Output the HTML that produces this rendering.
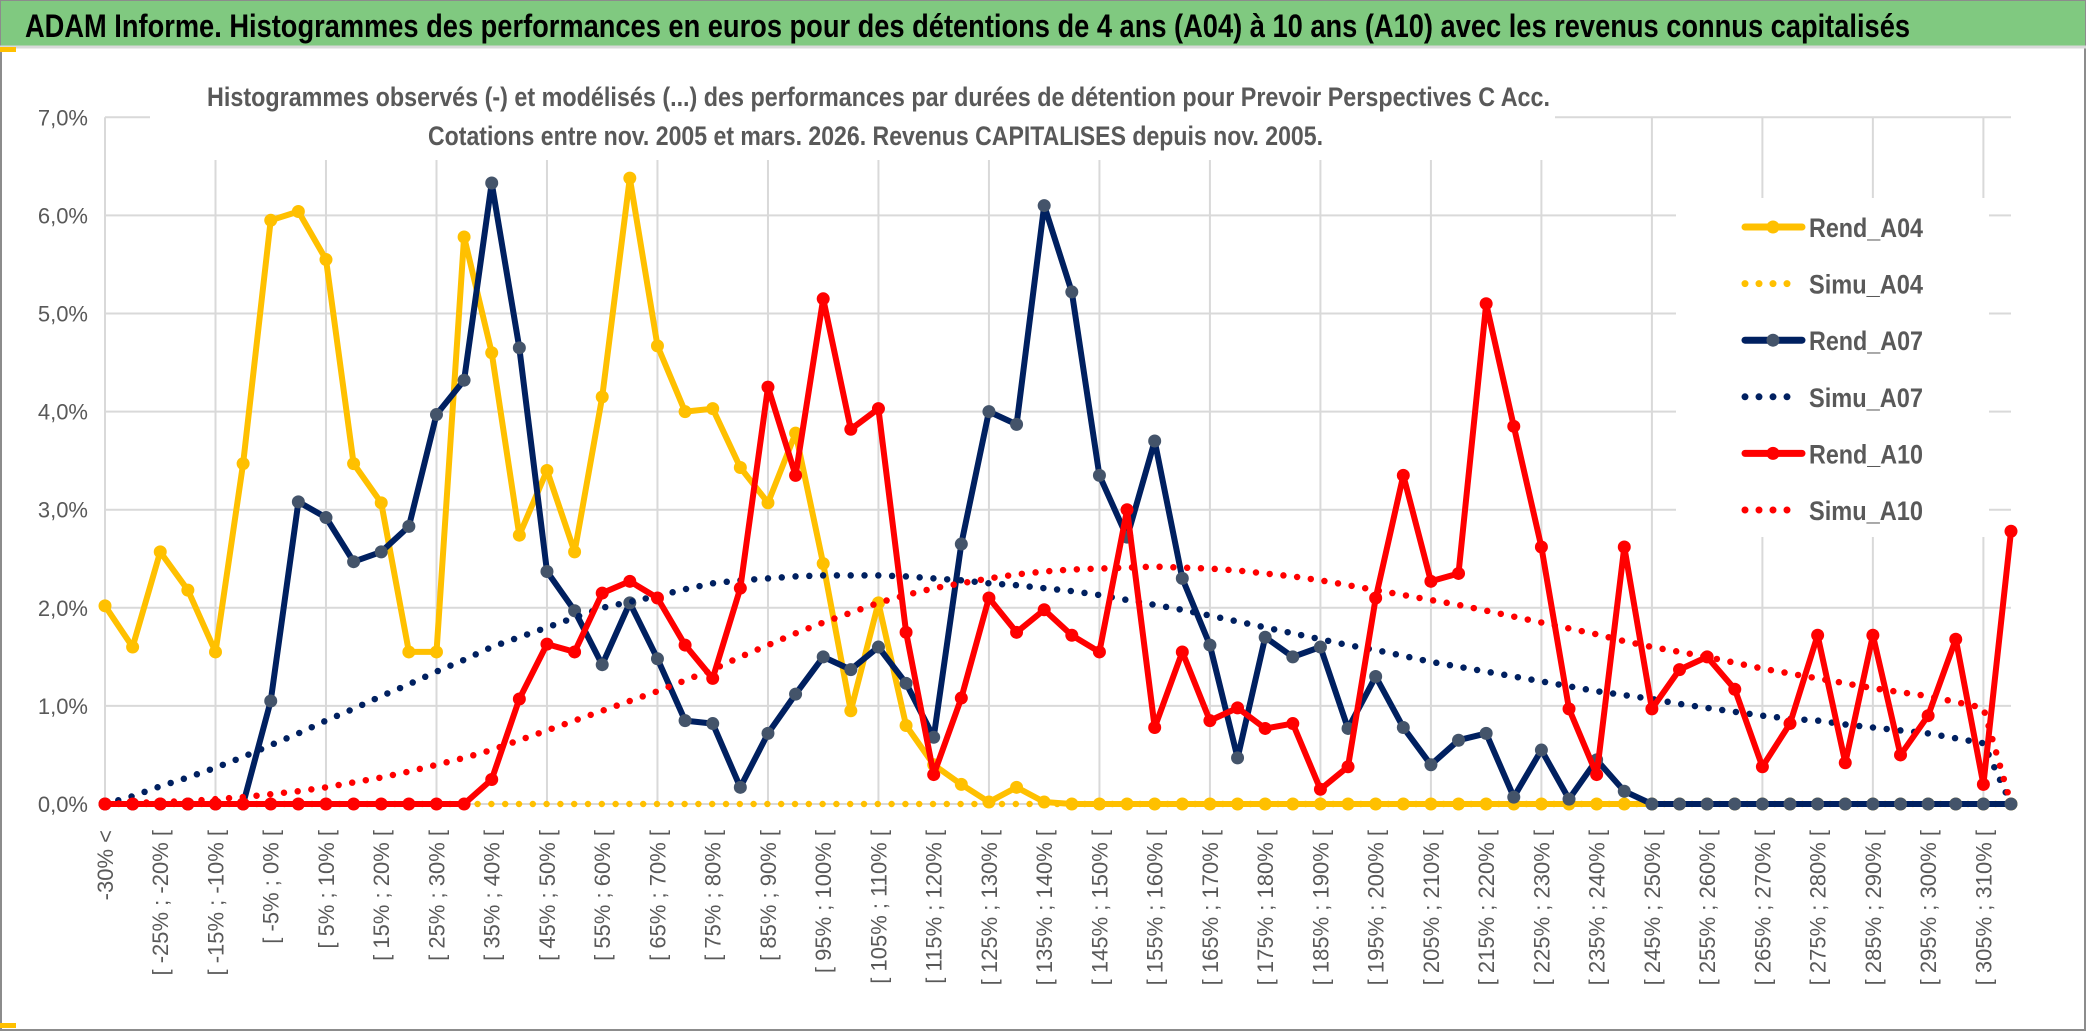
<!DOCTYPE html>
<html><head><meta charset="utf-8"><style>
html,body{margin:0;padding:0;background:#fff;}
svg{display:block;}
text{font-family:"Liberation Sans",sans-serif;}
</style></head><body>
<svg id="chart" width="2086" height="1031" viewBox="0 0 2086 1031" xmlns="http://www.w3.org/2000/svg">
<rect x="1" y="1" width="2084" height="1029" fill="#fff" stroke="#8c8c8c" stroke-width="2"/>
<rect x="1" y="1" width="2084" height="45" fill="#80c980"/>
<line x1="0" y1="47" x2="2086" y2="47" stroke="#d9d9d9" stroke-width="3"/>
<rect x="0" y="47" width="16" height="5" fill="#ffc000"/>
<rect x="0" y="1023" width="16" height="5" fill="#ffc000"/>
<text x="25" y="37" font-size="32" font-weight="bold" fill="#000" textLength="1885" lengthAdjust="spacingAndGlyphs">ADAM Informe. Histogrammes des performances en euros pour des détentions de 4 ans (A04) à 10 ans (A10) avec les revenus connus capitalisés</text>
<g id="grid"></g>
<rect x="150" y="68" width="1405" height="92" fill="#fff"/>
<text x="207" y="106" font-size="27" font-weight="bold" fill="#595959" textLength="1343" lengthAdjust="spacingAndGlyphs">Histogrammes observés (-) et modélisés (...) des performances par durées de détention pour Prevoir Perspectives C Acc.</text>
<text x="428" y="145" font-size="27" font-weight="bold" fill="#595959" textLength="895" lengthAdjust="spacingAndGlyphs">Cotations entre nov. 2005 et mars. 2026. Revenus CAPITALISES depuis nov. 2005.</text>
<rect x="1676" y="198" width="313" height="339" fill="#fff"/>
<g id="yaxis"></g>
<g id="xaxis"></g>
<g id="series"></g>
<g id="legend"></g>
</svg>
<script>
const yTicks = [0,1,2,3,4,5,6,7];
const rendA04 = [2.02,1.6,2.57,2.18,1.55,3.47,5.95,6.04,5.55,3.47,3.07,1.55,1.55,5.78,4.6,2.74,3.4,2.57,4.15,6.38,4.67,4.0,4.03,3.43,3.07,3.78,2.45,0.95,2.05,0.8,0.4,0.2,0.02,0.17,0.02,0,0,0,0,0,0,0,0,0,0,0,0,0,0,0,0,0,0,0,0,0,0,0,0,0,0,0,0,0,0,0,0,0,0,0];
const simuA04 = [0,0,0,0,0,0,0,0,0,0,0,0,0,0,0,0,0,0,0,0,0,0,0,0,0,0,0,0,0,0,0,0,0,0,0,0,0,0,0,0,0,0,0,0,0,0,0,0,0,0,0,0,0,0,0,0,0,0,0,0,0,0,0,0,0,0,0,0,0,0];
const rendA07 = [0,0,0,0,0,0,1.05,3.08,2.92,2.47,2.57,2.83,3.97,4.32,6.33,4.65,2.37,1.97,1.42,2.05,1.48,0.85,0.82,0.17,0.72,1.12,1.5,1.37,1.6,1.23,0.68,2.65,4.0,3.87,6.1,5.22,3.35,2.72,3.7,2.3,1.62,0.47,1.7,1.5,1.6,0.77,1.3,0.78,0.4,0.65,0.72,0.07,0.55,0.05,0.45,0.13,0,0,0,0,0,0,0,0,0,0,0,0,0,0];
const simuA07 = [0,0.08,0.18,0.27,0.37,0.48,0.6,0.72,0.85,0.97,1.1,1.22,1.35,1.47,1.6,1.7,1.8,1.9,2.0,2.06,2.12,2.19,2.25,2.28,2.3,2.32,2.33,2.33,2.33,2.32,2.3,2.28,2.25,2.23,2.2,2.17,2.13,2.08,2.03,1.98,1.92,1.86,1.8,1.74,1.68,1.62,1.57,1.51,1.45,1.4,1.35,1.3,1.25,1.2,1.15,1.11,1.07,1.02,0.98,0.94,0.9,0.87,0.85,0.81,0.78,0.75,0.72,0.67,0.62,0];
const rendA10 = [0,0,0,0,0,0,0,0,0,0,0,0,0,0,0.25,1.07,1.63,1.55,2.15,2.27,2.1,1.62,1.28,2.2,4.25,3.35,5.15,3.82,4.03,1.75,0.3,1.08,2.1,1.75,1.98,1.72,1.55,3.0,0.78,1.55,0.85,0.98,0.77,0.82,0.15,0.38,2.1,3.35,2.27,2.35,5.1,3.85,2.62,0.97,0.3,2.62,0.97,1.37,1.5,1.17,0.38,0.82,1.72,0.42,1.72,0.5,0.9,1.68,0.2,2.78];
const simuA10 = [0,0.01,0.02,0.03,0.05,0.07,0.1,0.13,0.17,0.22,0.27,0.33,0.4,0.47,0.55,0.65,0.75,0.85,0.95,1.05,1.15,1.26,1.37,1.5,1.62,1.74,1.85,1.95,2.05,2.13,2.2,2.25,2.3,2.34,2.37,2.39,2.4,2.41,2.42,2.41,2.4,2.38,2.35,2.32,2.28,2.23,2.18,2.13,2.08,2.03,1.97,1.91,1.85,1.79,1.73,1.66,1.6,1.55,1.5,1.44,1.38,1.33,1.28,1.23,1.18,1.14,1.1,1.04,0.98,0];
const categories = ["-30% <"];
for (let lo = -30; lo < 315; lo += 5) categories.push("[ " + lo + "% ; " + (lo + 5) + "% [");

const NS = "http://www.w3.org/2000/svg";
const X0 = 105, X1 = 2011, Y0 = 804, YPER = 98.1;
const n = categories.length;
function xs(i){ return X0 + i * (X1 - X0) / (n - 1); }
function ys(v){ return Y0 - v * YPER; }
function mk(tag, attrs, parent){ const e = document.createElementNS(NS, tag); for (const k in attrs) e.setAttribute(k, attrs[k]); parent.appendChild(e); return e; }

const grid = document.getElementById('grid');
yTicks.forEach(t => {
  const l = mk('line', {x1: X0, x2: X1, y1: ys(t), y2: ys(t), stroke: '#d9d9d9', 'stroke-width': 2}, grid);
  
  
});
for (let i = 0; i < n; i += 4) {
  const l = mk('line', {x1: xs(i), x2: xs(i), y1: ys(7), y2: ys(0), stroke: '#d9d9d9', 'stroke-width': 2}, grid);
  
  
}
const yaxis = document.getElementById('yaxis');
yTicks.forEach(t => {
  const tx = mk('text', {x: 88, y: ys(t) + 8, 'font-size': 22, fill: '#595959', 'text-anchor': 'end'}, yaxis);
  tx.textContent = t.toFixed(1).replace('.', ',') + '%';
  
  
});
const xaxis = document.getElementById('xaxis');
for (let i = 0; i < n; i += 2) {
  const x = xs(i) + 8, y = 830;
  const tx = mk('text', {x: x, y: y, 'font-size': 22, fill: '#595959', 'text-anchor': 'end', transform: 'rotate(-90 ' + x + ' ' + y + ')'}, xaxis);
  tx.textContent = categories[i];
  
  
}

const seriesG = document.getElementById('series');
const defs = [
  {name: 'Rend_A04', data: rendA04, color: '#ffc000', marker: '#ffc000', dotted: false},
  {name: 'Simu_A04', data: simuA04, color: '#ffc000', dotted: true},
  {name: 'Rend_A07', data: rendA07, color: '#002060', marker: '#44546a', dotted: false},
  {name: 'Simu_A07', data: simuA07, color: '#002060', dotted: true},
  {name: 'Rend_A10', data: rendA10, color: '#ff0000', marker: '#ff0000', dotted: false},
  {name: 'Simu_A10', data: simuA10, color: '#ff0000', dotted: true}
];
defs.forEach(s => {
  const g = mk('g', {}, seriesG);
  
  
  const pts = s.data.map((v, i) => xs(i).toFixed(1) + ',' + ys(v).toFixed(1)).join(' ');
  const attrs = {points: pts, fill: 'none', stroke: s.color, 'stroke-linejoin': 'round', 'stroke-linecap': 'round'};
  if (s.dotted) { attrs['stroke-width'] = 6.5; attrs['stroke-dasharray'] = '0 13.8'; }
  else { attrs['stroke-width'] = 6; }
  const pl = mk('polyline', attrs, g);
  
  
  if (!s.dotted) {
    s.data.forEach((v, i) => {
      const c = mk('circle', {cx: xs(i), cy: ys(v), r: 6.5, fill: s.marker}, g);
      
      
    });
  }
});

const legend = document.getElementById('legend');
defs.forEach((s, k) => {
  const y = 227 + k * 56.6;
  const g = mk('g', {}, legend);
  
  
  if (s.dotted) {
    mk('line', {x1: 1745, x2: 1800, y1: y, y2: y, stroke: s.color, 'stroke-width': 7, 'stroke-linecap': 'round', 'stroke-dasharray': '0 14'}, g);
  } else {
    mk('line', {x1: 1745, x2: 1802, y1: y, y2: y, stroke: s.color, 'stroke-width': 7, 'stroke-linecap': 'round'}, g);
    mk('circle', {cx: 1773, cy: y, r: 6.5, fill: s.marker}, g);
  }
  const t = mk('text', {x: 1809, y: y + 10, 'font-size': 27, 'font-weight': 'bold', fill: '#595959', textLength: 114, lengthAdjust: 'spacingAndGlyphs'}, g);
  t.textContent = s.name;
});
</script>
</body></html>
